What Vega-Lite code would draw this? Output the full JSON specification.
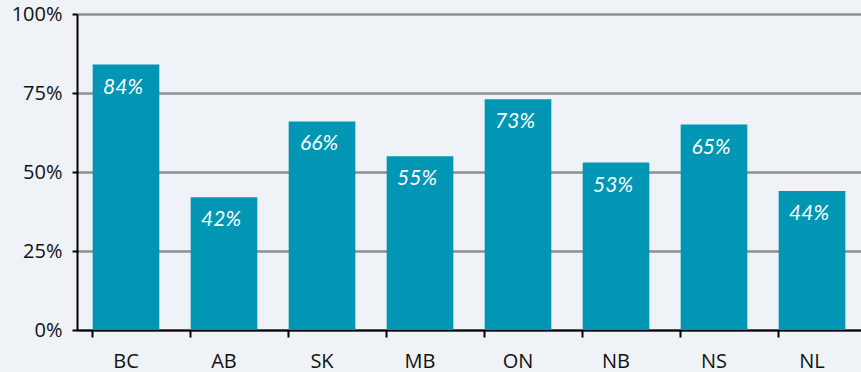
{
  "$schema": "https://vega.github.io/schema/vega-lite/v6.json",
  "width": 784,
  "height": 316,
  "autosize": {"type": "none"},
  "padding": {"left": 77, "top": 14, "right": 0, "bottom": 42},
  "background": "#eff3f7",
  "config": {
    "view": {"stroke": null},
    "axis": {
      "labelFont": "Open Sans",
      "labelFontSize": 20,
      "labelColor": "#111111",
      "domainColor": "#000000",
      "domainWidth": 2,
      "tickColor": "#000000",
      "tickWidth": 2,
      "title": null
    }
  },
  "data": {
    "values": [
      {"province": "BC", "share": 0.84},
      {"province": "AB", "share": 0.42},
      {"province": "SK", "share": 0.66},
      {"province": "MB", "share": 0.55},
      {"province": "ON", "share": 0.73},
      {"province": "NB", "share": 0.53},
      {"province": "NS", "share": 0.65},
      {"province": "NL", "share": 0.44}
    ]
  },
  "encoding": {
    "x": {
      "field": "province",
      "type": "nominal",
      "sort": null,
      "scale": {"paddingInner": 0.32, "paddingOuter": 0.16},
      "axis": {"labelAngle": 0, "tickSize": 7, "bandPosition": 0, "labelPadding": 14, "grid": false}
    },
    "y": {
      "field": "share",
      "type": "quantitative",
      "scale": {"domain": [0, 1], "nice": false},
      "axis": {
        "values": [0, 0.25, 0.5, 0.75, 1],
        "format": ".0%",
        "tickSize": 5,
        "labelPadding": 10,
        "grid": true,
        "gridColor": "#8f8f8f",
        "gridWidth": 2.5
      }
    }
  },
  "layer": [
    {"mark": {"type": "bar", "color": "#0096b4"}},
    {
      "mark": {
        "type": "text",
        "color": "#ffffff",
        "font": "Lato",
        "fontStyle": "italic",
        "fontSize": 21,
        "baseline": "middle",
        "dy": 23,
        "dx": -3
      },
      "encoding": {"text": {"field": "share", "type": "quantitative", "format": ".0%"}}
    }
  ]
}
